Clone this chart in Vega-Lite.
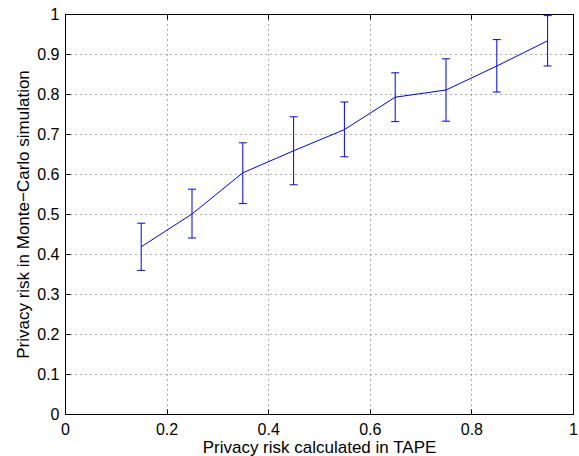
{
  "$schema": "https://vega.github.io/schema/vega-lite/v6.json",
  "width": 508,
  "height": 400,
  "autosize": "none",
  "padding": {"left": 65, "top": 14, "right": 6, "bottom": 42},
  "background": "white",
  "config": {
    "view": {"stroke": "black", "strokeWidth": 1},
    "font": "Liberation Sans",
    "axis": {
      "domainColor": "black",
      "domainWidth": 1,
      "tickColor": "black",
      "tickSize": -5,
      "tickWidth": 1,
      "labelColor": "black",
      "labelFont": "Liberation Sans",
      "labelFontSize": 16,
      "titleFont": "Liberation Sans",
      "titleFontSize": 17,
      "titleFontWeight": "normal",
      "titleColor": "black",
      "gridColor": "#5a5a5a",
      "gridDash": [1, 4],
      "gridWidth": 1,
      "gridOpacity": 1
    }
  },
  "data": {
    "values": [
      {"tape": 0.15, "mc": 0.418, "lo": 0.359, "hi": 0.477},
      {"tape": 0.25, "mc": 0.500, "lo": 0.440, "hi": 0.562},
      {"tape": 0.35, "mc": 0.603, "lo": 0.526, "hi": 0.678},
      {"tape": 0.45, "mc": 0.658, "lo": 0.573, "hi": 0.743},
      {"tape": 0.55, "mc": 0.711, "lo": 0.643, "hi": 0.780},
      {"tape": 0.65, "mc": 0.792, "lo": 0.731, "hi": 0.853},
      {"tape": 0.75, "mc": 0.810, "lo": 0.732, "hi": 0.888},
      {"tape": 0.85, "mc": 0.870, "lo": 0.805, "hi": 0.936},
      {"tape": 0.95, "mc": 0.933, "lo": 0.870, "hi": 0.996}
    ]
  },
  "resolve": {"axis": {"x": "independent", "y": "independent"}},
  "layer": [
    {
      "mark": {"type": "line", "color": "#0000ff", "strokeWidth": 1},
      "encoding": {
        "x": {
          "field": "tape", "type": "quantitative",
          "scale": {"domain": [0, 1], "nice": false, "zero": false},
          "axis": {
            "orient": "bottom",
            "values": [0, 0.2, 0.4, 0.6, 0.8, 1],
            "format": ".1~f",
            "grid": true,
            "labelPadding": 12,
            "labelFlush": false,
            "title": "Privacy risk calculated in TAPE",
            "titleBaseline": "alphabetic",
            "titleY": 38.5,
            "titleX": 254
          }
        },
        "y": {
          "field": "mc", "type": "quantitative",
          "scale": {"domain": [0, 1], "nice": false, "zero": false},
          "axis": {
            "orient": "left",
            "values": [0, 0.1, 0.2, 0.3, 0.4, 0.5, 0.6, 0.7, 0.8, 0.9, 1],
            "format": ".1~f",
            "grid": true,
            "labelPadding": 11,
            "labelFlush": false,
            "title": "Privacy risk in Monte−Carlo simulation",
            "titleBaseline": "alphabetic",
            "titleAngle": -90,
            "titleX": -37,
            "titleY": 200
          }
        }
      }
    },
    {
      "mark": {"type": "rule", "color": "#0000ff", "strokeWidth": 1},
      "encoding": {
        "x": {
          "field": "tape", "type": "quantitative",
          "axis": {
            "orient": "top",
            "values": [0, 0.2, 0.4, 0.6, 0.8, 1],
            "grid": false, "labels": false, "title": null
          }
        },
        "y": {
          "field": "lo", "type": "quantitative",
          "axis": {
            "orient": "right",
            "values": [0, 0.1, 0.2, 0.3, 0.4, 0.5, 0.6, 0.7, 0.8, 0.9, 1],
            "grid": false, "labels": false, "title": null
          }
        },
        "y2": {"field": "hi"}
      }
    },
    {
      "mark": {"type": "tick", "color": "#0000ff", "orient": "horizontal", "size": 8, "thickness": 1, "opacity": 1},
      "encoding": {
        "x": {"field": "tape", "type": "quantitative", "axis": null},
        "y": {"field": "lo", "type": "quantitative", "axis": null}
      }
    },
    {
      "mark": {"type": "tick", "color": "#0000ff", "orient": "horizontal", "size": 8, "thickness": 1, "opacity": 1},
      "encoding": {
        "x": {"field": "tape", "type": "quantitative", "axis": null},
        "y": {"field": "hi", "type": "quantitative", "axis": null}
      }
    }
  ]
}
